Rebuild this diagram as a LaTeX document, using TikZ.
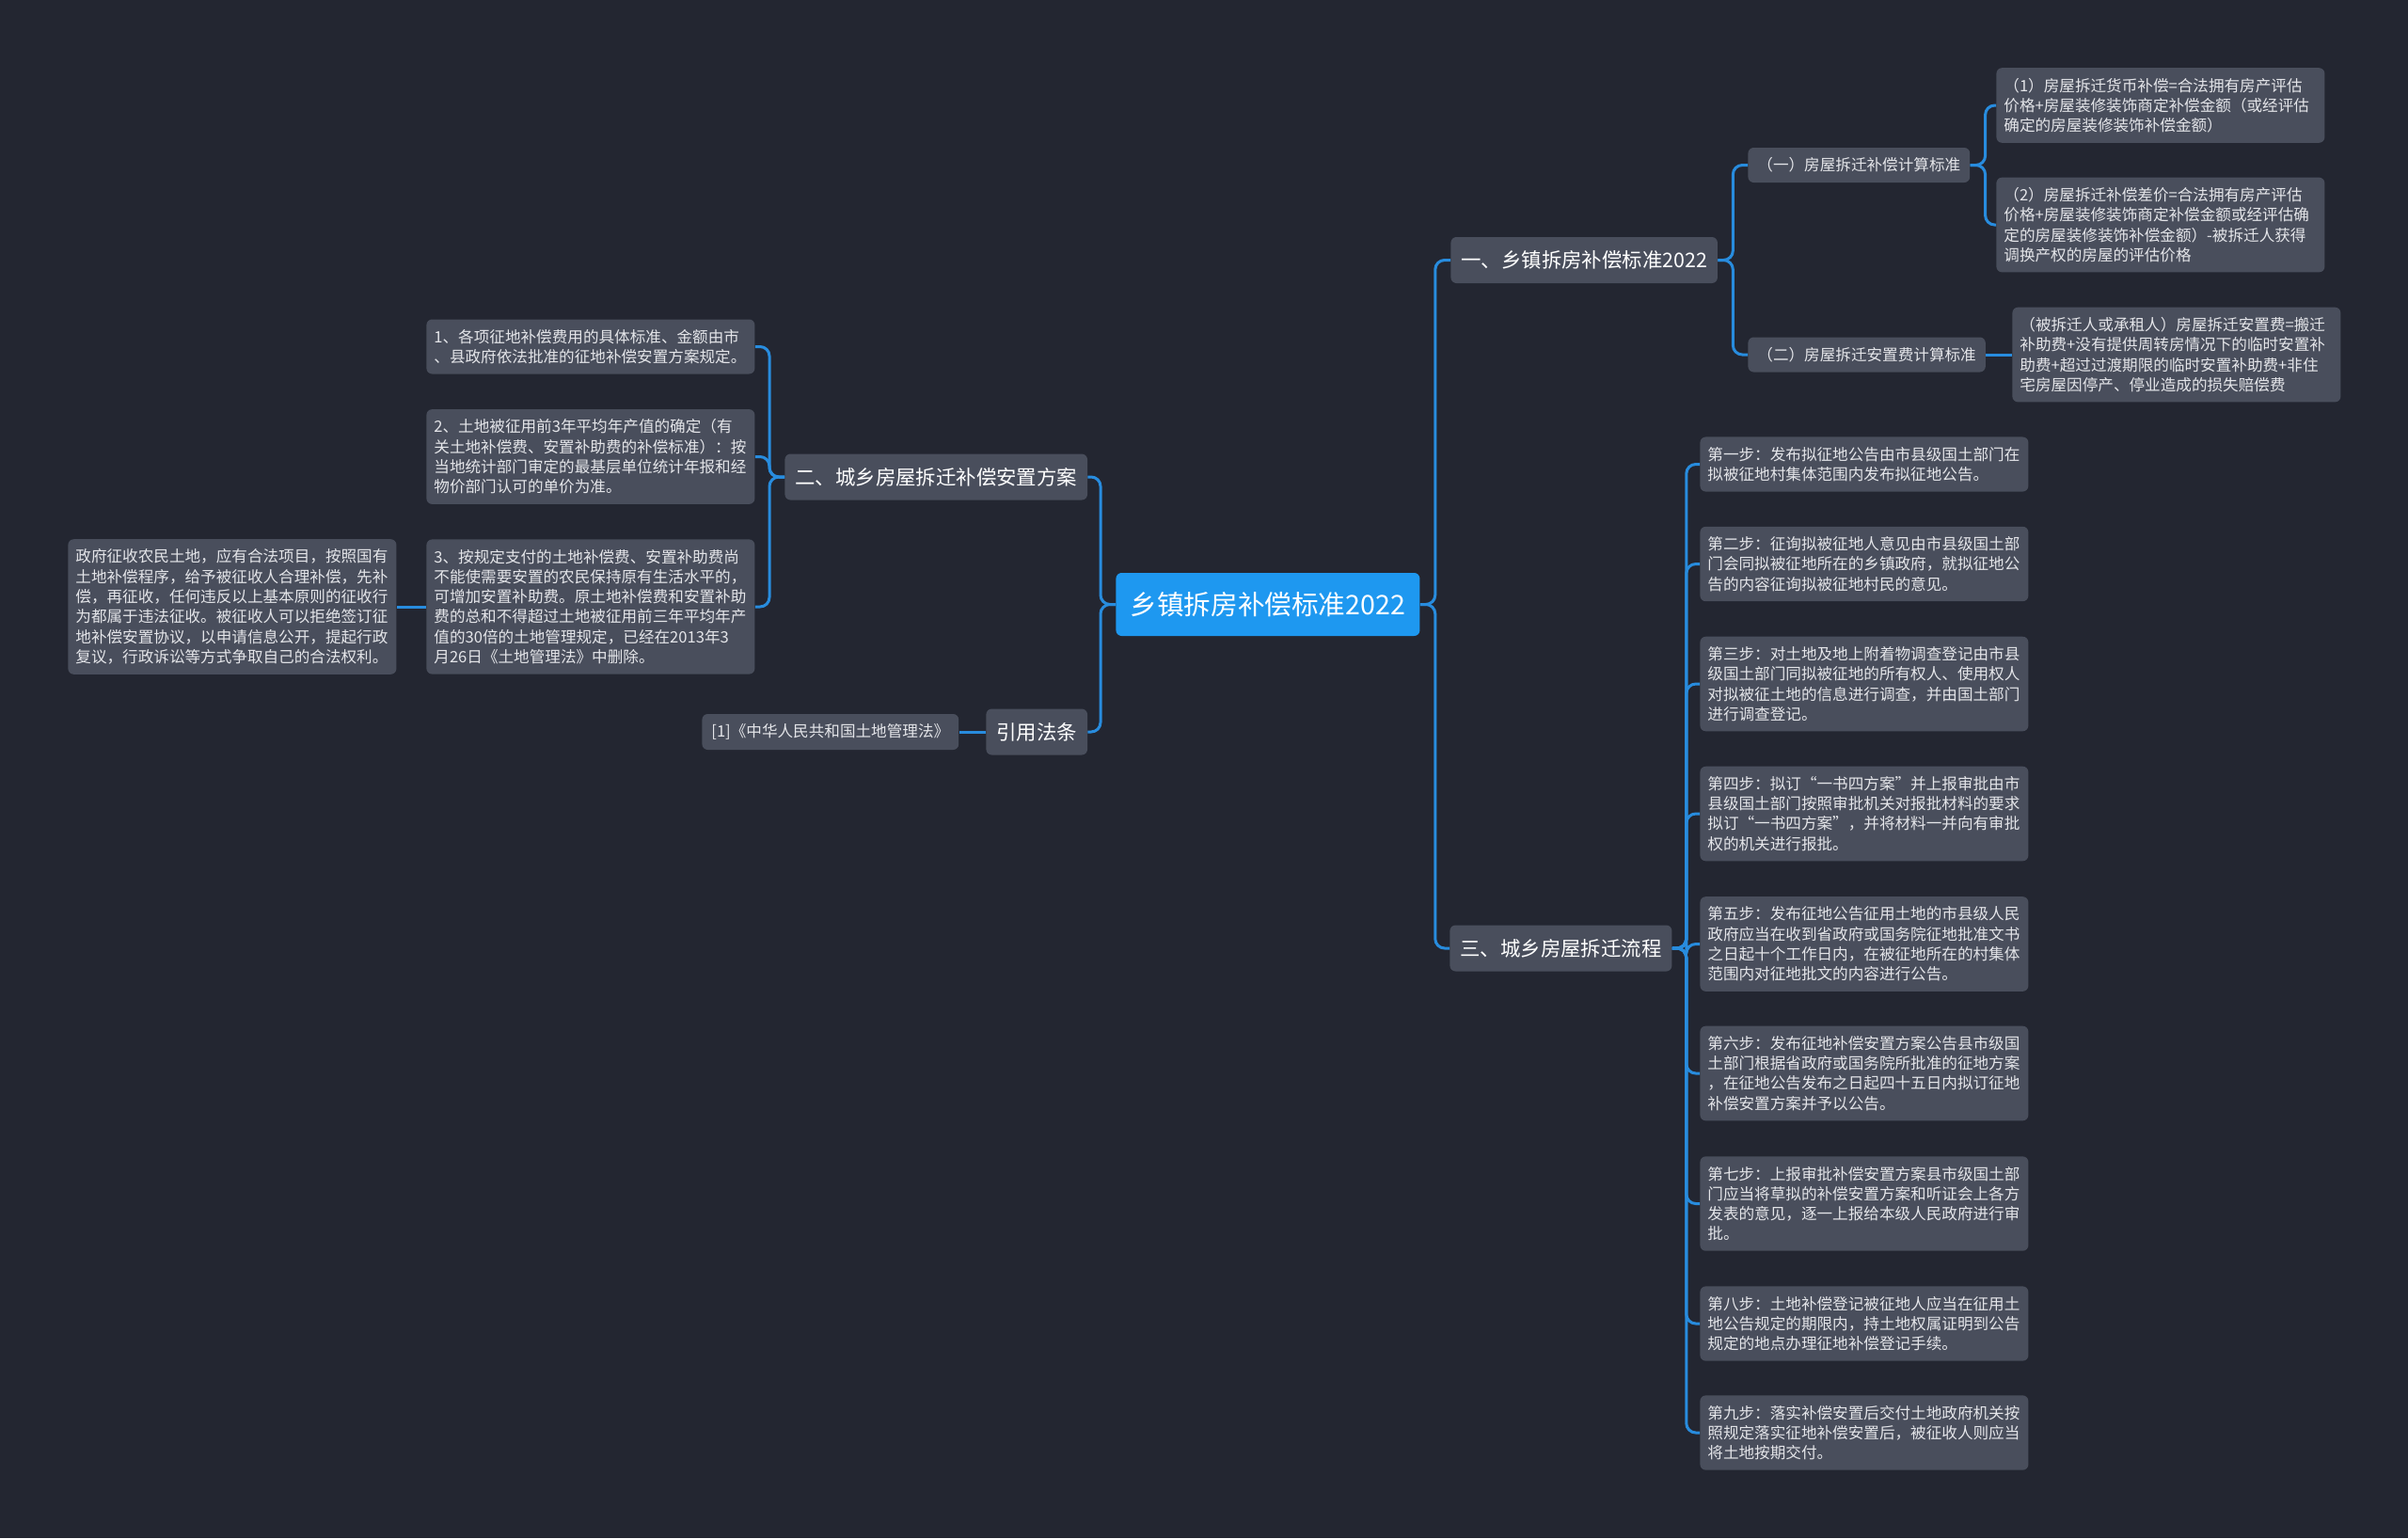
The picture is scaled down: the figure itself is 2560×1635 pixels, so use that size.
\documentclass[tikz,border=0pt]{standalone}
\usepackage{fontspec}
\setmainfont{Noto Sans CJK SC}
\definecolor{bgdark}{RGB}{35,38,49}
\definecolor{boxgray}{RGB}{73,78,92}
\definecolor{rootblue}{RGB}{30,152,240}
\definecolor{linkblue}{RGB}{40,140,222}
\definecolor{leaftext}{RGB}{228,229,233}

\tikzset{
    root/.style={fill=rootblue, text=white, rounded corners=3pt, anchor=west,
      font=\fontsize{14.3}{17}\selectfont, minimum width=161.5pt, minimum height=33.5pt}
  }
\tikzset{
    topic/.style={fill=boxgray, text=white, rounded corners=3pt, anchor=west,
      font=\fontsize{10.7}{13}\selectfont, inner xsep=5.5pt, minimum height=24.5pt}
  }
\tikzset{
    sub/.style={fill=boxgray, text=leaftext, rounded corners=3pt, anchor=west,
      font=\fontsize{8.3}{10.65}\selectfont, inner xsep=5pt, minimum height=18.5pt}
  }
\tikzset{
    leaf/.style={fill=boxgray, text=leaftext, rounded corners=3pt, anchor=west,
      font=\fontsize{8.3}{10.65}\selectfont, align=left, text width=166.5pt,
      inner xsep=4pt, inner ysep=5.3pt}
  }
\tikzset{
    link/.style={draw=linkblue, line width=1.5pt, rounded corners=5pt}
  }

\begin{document}
\begin{tikzpicture}[x=0.5pt, y=-0.5pt]
    \fill[bgdark] (0,0) rectangle (2560,1635);

    \node[root] (root) at (1186,642.5) {乡镇拆房补偿标准2022};

    \node[topic] (std) at (1542,276.5) {一、乡镇拆房补偿标准2022};
    \node[topic] (plan) at (834,507) {二、城乡房屋拆迁补偿安置方案};
    \node[topic] (flow) at (1541,1008) {三、城乡房屋拆迁流程};
    \node[topic] (law) at (1048,778) {引用法条};

    \node[sub] (calc) at (1858,175.5) {（一）房屋拆迁补偿计算标准};
    \node[sub] (fee) at (1858,377) {（二）房屋拆迁安置费计算标准};

    \node[leaf] (calca) at (2122,112) {（1）房屋拆迁货币补偿=合法拥有房产评估\\价格+房屋装修装饰商定补偿金额（或经评估\\确定的房屋装修装饰补偿金额）};
    \node[leaf] (calcb) at (2122,239) {（2）房屋拆迁补偿差价=合法拥有房产评估\\价格+房屋装修装饰商定补偿金额或经评估确\\定的房屋装修装饰补偿金额）-被拆迁人获得\\调换产权的房屋的评估价格};
    \node[leaf] (feea) at (2139,377) {（被拆迁人或承租人）房屋拆迁安置费=搬迁\\补助费+没有提供周转房情况下的临时安置补\\助费+超过过渡期限的临时安置补助费+非住\\宅房屋因停产、停业造成的损失赔偿费};

    \node[leaf] (step1) at (1807,493.5) {第一步：发布拟征地公告由市县级国土部门在\\拟被征地村集体范围内发布拟征地公告。};
    \node[leaf] (step2) at (1807,599.5) {第二步：征询拟被征地人意见由市县级国土部\\门会同拟被征地所在的乡镇政府，就拟征地公\\告的内容征询拟被征地村民的意见。};
    \node[leaf] (step3) at (1807,727) {第三步：对土地及地上附着物调查登记由市县\\级国土部门同拟被征地的所有权人、使用权人\\对拟被征土地的信息进行调查，并由国土部门\\进行调查登记。};
    \node[leaf] (step4) at (1807,865) {第四步：拟订“一书四方案”并上报审批由市\\县级国土部门按照审批机关对报批材料的要求\\拟订“一书四方案”，并将材料一并向有审批\\权的机关进行报批。};
    \node[leaf] (step5) at (1807,1003.5) {第五步：发布征地公告征用土地的市县级人民\\政府应当在收到省政府或国务院征地批准文书\\之日起十个工作日内，在被征地所在的村集体\\范围内对征地批文的内容进行公告。};
    \node[leaf] (step6) at (1807,1141) {第六步：发布征地补偿安置方案公告县市级国\\土部门根据省政府或国务院所批准的征地方案\\，在征地公告发布之日起四十五日内拟订征地\\补偿安置方案并予以公告。};
    \node[leaf] (step7) at (1807,1279.5) {第七步：上报审批补偿安置方案县市级国土部\\门应当将草拟的补偿安置方案和听证会上各方\\发表的意见，逐一上报给本级人民政府进行审\\批。};
    \node[leaf] (step8) at (1807,1407) {第八步：土地补偿登记被征地人应当在征用土\\地公告规定的期限内，持土地权属证明到公告\\规定的地点办理征地补偿登记手续。};
    \node[leaf] (step9) at (1807,1523) {第九步：落实补偿安置后交付土地政府机关按\\照规定落实征地补偿安置后，被征收人则应当\\将土地按期交付。};

    \node[leaf] (planA) at (453,368.5) {1、各项征地补偿费用的具体标准、金额由市\\、县政府依法批准的征地补偿安置方案规定。};
    \node[leaf] (planB) at (453,485.5) {2、土地被征用前3年平均年产值的确定（有\\关土地补偿费、安置补助费的补偿标准）：按\\当地统计部门审定的最基层单位统计年报和经\\物价部门认可的单价为准。};
    \node[leaf] (planC) at (453,645) {3、按规定支付的土地补偿费、安置补助费尚\\不能使需要安置的农民保持原有生活水平的，\\可增加安置补助费。原土地补偿费和安置补助\\费的总和不得超过土地被征用前三年平均年产\\值的30倍的土地管理规定，已经在2013年3\\月26日《土地管理法》中删除。};
    \node[leaf] (planCa) at (72,645) {政府征收农民土地，应有合法项目，按照国有\\土地补偿程序，给予被征收人合理补偿，先补\\偿，再征收，任何违反以上基本原则的征收行\\为都属于违法征收。被征收人可以拒绝签订征\\地补偿安置协议，以申请信息公开，提起行政\\复议，行政诉讼等方式争取自己的合法权利。};

    \node[sub, minimum height=19pt] (lawA) at (746,778) {[1]《中华人民共和国土地管理法》};

    \draw[link] (root.east) -- ++(16,0) |- (std.west);
    \draw[link] (root.east) -- ++(16,0) |- (flow.west);
    \draw[link] (root.west) -- ++(-16,0) |- (plan.east);
    \draw[link] (root.west) -- ++(-16,0) |- (law.east);

    \draw[link] (std.east) -- ++(16,0) |- (calc.west);
    \draw[link] (std.east) -- ++(16,0) |- (fee.west);
    \draw[link] (calc.east) -- ++(16,0) |- (calca.west);
    \draw[link] (calc.east) -- ++(16,0) |- (calcb.west);
    \draw[link] (fee.east) -- (feea.west);

    \foreach \s in {1,...,9} {
      \draw[link] (flow.east) -- ++(15,0) |- (step\s.west);
    }

    \foreach \p in {planA,planB,planC} {
      \draw[link] (plan.west) -- ++(-16,0) |- (\p.east);
    }
    \draw[link] (planC.west) -- (planCa.east);
    \draw[link] (law.west) -- (lawA.east);

  \end{tikzpicture}
\end{document}
